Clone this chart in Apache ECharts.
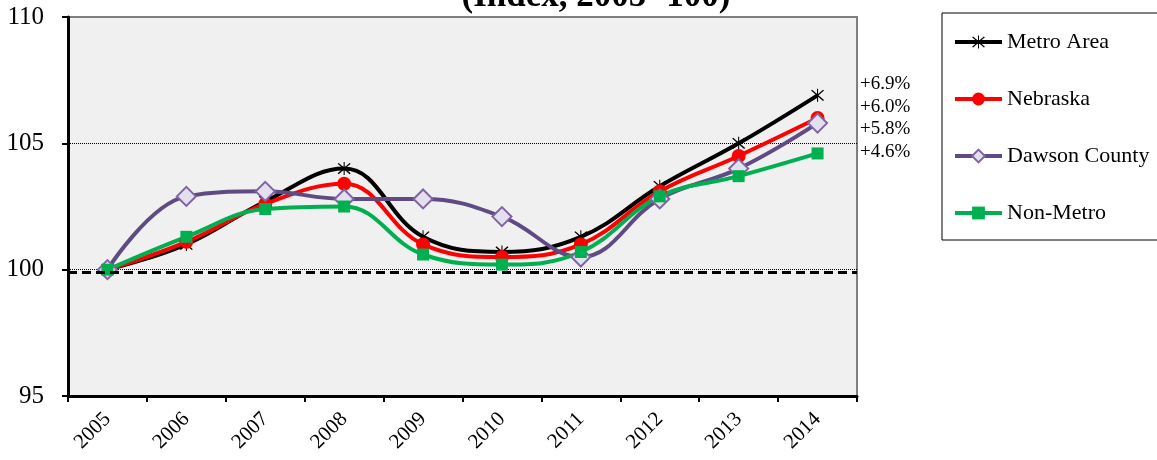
<!DOCTYPE html>
<html>
<head>
<meta charset="utf-8">
<title>Index chart</title>
<style type="text/css">
    *{ margin:0; padding:0; }
    html,body{ width:100%; height:100%; background:#fff; }
    #main{ width:1157px; height:460px; }
</style>
</head>
<body>
<div id="main"></div>
<script src="https://cdn.jsdelivr.net/npm/echarts@6/dist/echarts.min.js"></script>
<script type="text/javascript">
    // 数据
    var years = ['2005','2006','2007','2008','2009','2010','2011','2012','2013','2014'];
    var metroArea = [100, 101.0, 102.7, 104.0, 101.3, 100.7, 101.3, 103.3, 105.0, 106.9];
    var nebraska = [100, 101.1, 102.6, 103.4, 101.0, 100.5, 101.0, 103.1, 104.5, 106.0];
    var dawsonCounty = [100, 102.9, 103.1, 102.8, 102.8, 102.1, 100.5, 102.8, 104.0, 105.8];
    var nonMetro = [100, 101.3, 102.4, 102.5, 100.6, 100.2, 100.7, 102.9, 103.7, 104.6];
    var changeLabels = ['+6.9%', '+6.0%', '+5.8%', '+4.6%'];
    var baseLine = 99.9;

    var serif = '"Liberation Serif", "DejaVu Serif", serif';
    // 星号标记
    var starPath = 'path://M9.3,0 L10.7,0 L10.7,20 L9.3,20 Z M2.7,1.3 L18.7,17.3 L17.3,18.7 L1.3,2.7 Z M17.3,1.3 L18.7,2.7 L2.7,18.7 L1.3,17.3 Z';

    var myChart = echarts.init(document.getElementById('main'));

    var option = {
        animation: false,
        title: {
            text: '(Index, 2005=100)',
            left: 591,
            top: -26,
            textAlign: 'center',
            textStyle: { fontFamily: serif, fontSize: 35, fontWeight: 'bold', color: '#000' }
        },
        legend: {
            orient: 'vertical',
            left: 942,
            top: 13,
            padding: [18, 40, 16, 11],
            borderColor: '#000',
            borderWidth: 1,
            itemWidth: 47,
            itemHeight: 16,
            itemGap: 35,
            lineStyle: { width: 4 },
            textStyle: { fontFamily: serif, fontSize: 22, color: '#000', lineHeight: 22 },
            data: ['Metro Area', 'Nebraska', 'Dawson County', 'Non-Metro']
        },
        grid: {
            left: 68, right: 300, top: 17, bottom: 64,
            show: true,
            backgroundColor: '#f0f0f0',
            borderColor: '#7f7f7f',
            borderWidth: 2
        },
        xAxis: {
            type: 'category',
            data: years,
            boundaryGap: true,
            axisLine: { lineStyle: { color: '#000', width: 3 } },
            axisTick: { show: true, length: 6, lineStyle: { color: '#000', width: 2 } },
            axisLabel: { rotate: 45, margin: 20, fontFamily: serif, fontSize: 21, color: '#000' },
            splitLine: { show: false }
        },
        yAxis: {
            type: 'value',
            min: 95, max: 110, interval: 5,
            axisLine: { show: true, lineStyle: { color: '#000', width: 3 } },
            axisTick: { show: true, length: 6, lineStyle: { color: '#000', width: 2 } },
            axisLabel: { margin: 24, fontFamily: serif, fontSize: 25, color: '#000' },
            splitLine: { show: true, showMinLine: false, showMaxLine: false, lineStyle: { color: '#000', width: 1, type: 'dotted' } }
        },
        graphic: changeLabels.map(function (t, i) {
            return {
                type: 'text', left: 860, top: 75 + i * 22.4, z: 10,
                style: { text: t, font: '19px ' + serif, fill: '#000' }
            };
        }),
        series: [
            {
                name: 'Metro Area', type: 'line', data: metroArea, smooth: 0.4,
                symbol: starPath, symbolSize: 13,
                itemStyle: { color: '#000' },
                lineStyle: { color: '#000', width: 4 },
                markLine: {
                    silent: true, symbol: 'none', label: { show: false },
                    lineStyle: { color: '#000', width: 3, type: [9, 5] },
                    data: [{ yAxis: baseLine }]
                }
            },
            {
                name: 'Nebraska', type: 'line', data: nebraska, smooth: 0.4,
                symbol: 'circle', symbolSize: 14,
                itemStyle: { color: '#ff0000' },
                lineStyle: { color: '#ff0000', width: 4 }
            },
            {
                name: 'Dawson County', type: 'line', data: dawsonCounty, smooth: 0.4,
                symbol: 'diamond', symbolSize: 19,
                itemStyle: { color: '#e4dfee', borderColor: '#8064a2', borderWidth: 2 },
                lineStyle: { color: '#604a84', width: 4 }
            },
            {
                name: 'Non-Metro', type: 'line', data: nonMetro, smooth: 0.4,
                symbol: 'rect', symbolSize: 12,
                itemStyle: { color: '#00b050' },
                lineStyle: { color: '#00b050', width: 4 }
            }
        ]
    };
    myChart.setOption(option);
</script>
</body>
</html>
